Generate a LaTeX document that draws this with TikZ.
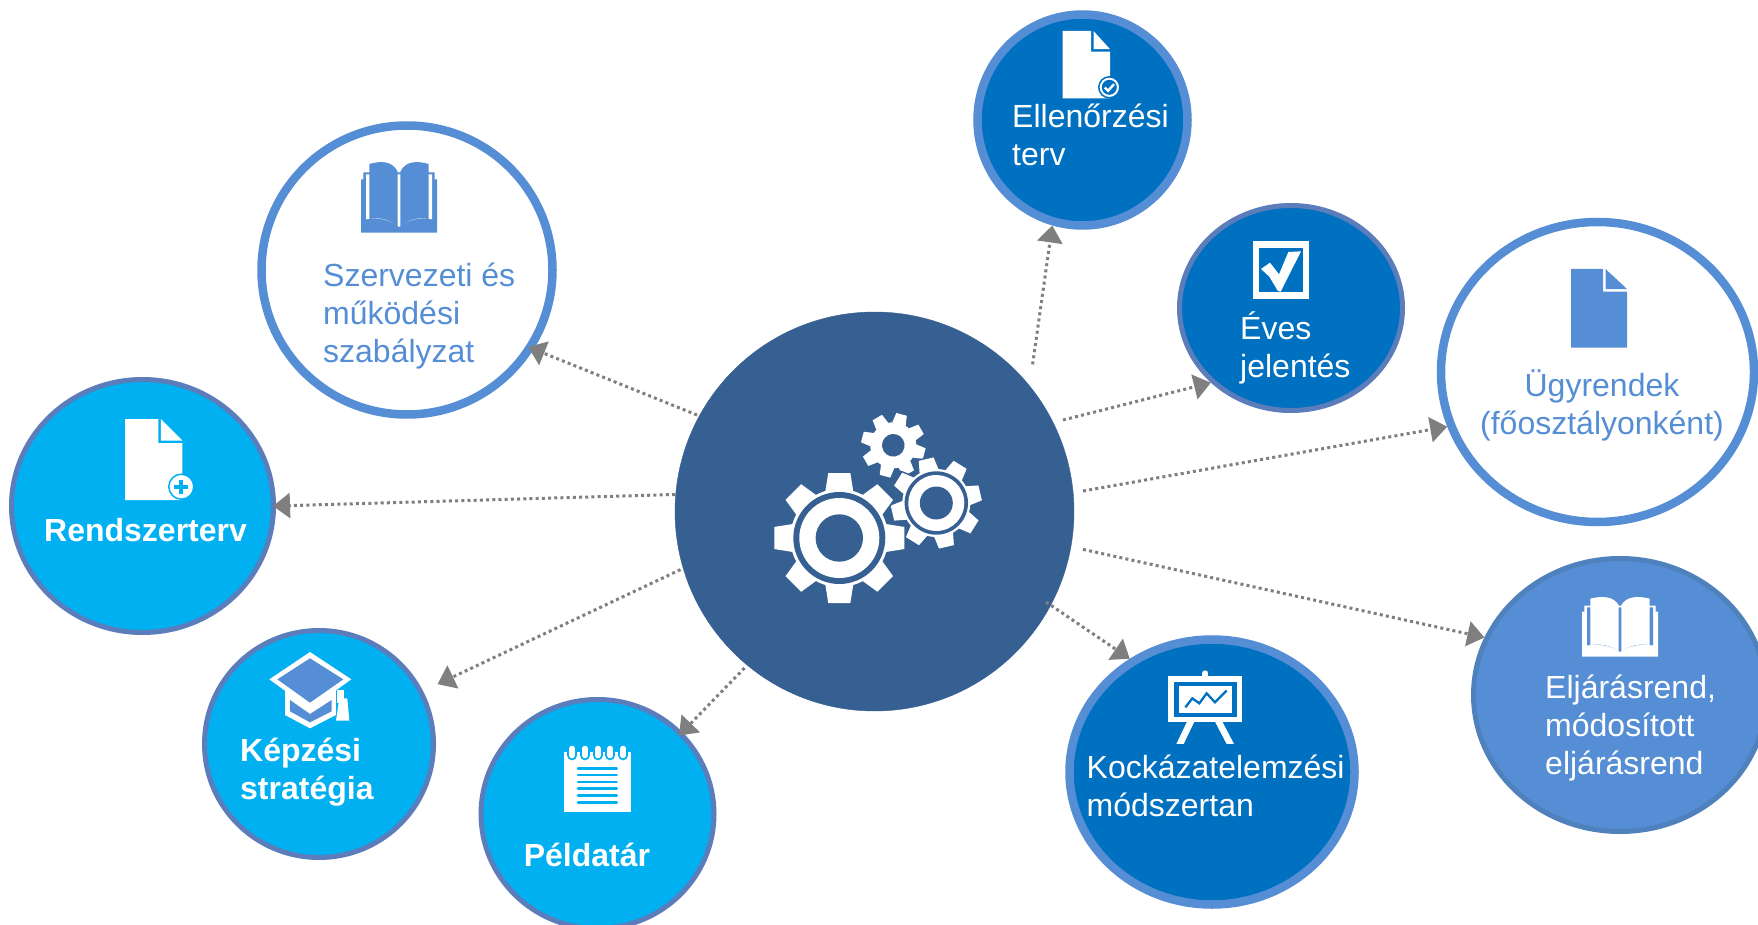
\documentclass[tikz,border=0pt]{standalone}
\usepackage{fontspec}
\setmainfont{Liberation Sans}
\usetikzlibrary{shapes.geometric,arrows.meta}
\definecolor{hubc}{HTML}{376092}
\definecolor{dkb}{HTML}{0070C0}
\definecolor{cyn}{HTML}{00B0F0}
\definecolor{lgb}{HTML}{558ED5}
\definecolor{slt}{HTML}{5B7DBB}
\definecolor{edg}{HTML}{4F81BD}
\definecolor{arr}{HTML}{7F7F7F}
\tikzset{
  blob/.style n args={4}{ellipse,inner sep=0pt,minimum width=#1pt,minimum height=#2pt,fill=#3,draw=#4},
  thinrim/.style={line width=5pt},
  widerim/.style={line width=8.5pt},
  conn/.style={draw=arr,line width=3pt,dash pattern=on 3pt off 3.2pt,-{Triangle[length=17pt,width=25pt,fill=arr]}},
  lbl/.style={inner sep=0pt,align=left,font=\fontsize{32}{38}\selectfont},
  lblc/.style={inner sep=0pt,align=center,font=\fontsize{32}{38}\selectfont},
  lblb/.style={inner sep=0pt,align=left,text=white,font=\fontsize{32}{38}\selectfont\bfseries},
}
% cx cy tip root ringout ringin hole rot
\newcommand\mygear[8]{%
  \begin{scope}[shift={(#1,#2)},rotate=#8]
    \foreach \a in {0,45,...,315}{
      \fill[white,draw=hubc,line width=3pt,rotate=\a]
        (#4*0.95,-#3*0.215) -- (#3,-#3*0.17) -- (#3,#3*0.17) -- (#4*0.95,#3*0.215) -- cycle;
    }
    \fill[white,draw=hubc,line width=3pt] (0,0) circle[radius=#4];
    \foreach \a in {0,45,...,315}{
      \fill[white,rotate=\a]
        (#4*0.95,-#3*0.215) -- (#3,-#3*0.17) -- (#3,#3*0.17) -- (#4*0.95,#3*0.215) -- cycle;
    }
    \fill[white] (0,0) circle[radius=#4];
    \ifdim #5pt>0pt
      \fill[hubc] (0,0) circle[radius=#5];
      \fill[white] (0,0) circle[radius=#6];
    \fi
    \fill[hubc] (0,0) circle[radius=#7];
  \end{scope}}
% L R T B foldx foldy paper
\newcommand\mydoc[7]{%
  \fill[#7] (#1,#3) -- (#5,#3) -- (#5,#6) -- (#2,#6) -- (#2,#4) -- (#1,#4) -- cycle;
  \fill[#7] (#5+2.5,#3) -- (#2,#6-2.5) -- (#5+2.5,#6-2.5) -- cycle;}
% cx top xs ys fg bg
\newcommand\mybook[6]{%
  \begin{scope}[shift={(#1,#2)},xscale=#3,yscale=#4]
    \fill[#5] (-114,213) -- (-114,53) -- (-107,53) -- (-107,32) -- (107,32) -- (107,53) -- (114,53) -- (114,213) -- cycle;
    \fill[#6] (-99,38) -- (-99,173) .. controls (-60,165) and (-25,175) .. (0,196) .. controls (25,175) and (60,165) .. (99,173) -- (99,38) -- cycle;
    \fill[#5] (-89,7) .. controls (-55,-3) and (-20,-3) .. (-4,30) -- (-4,195) .. controls (-25,175) and (-55,165) .. (-89,172) -- cycle;
    \fill[#5] (89,7) .. controls (55,-3) and (20,-3) .. (4,30) -- (4,195) .. controls (25,175) and (55,165) .. (89,172) -- cycle;
  \end{scope}}
\begin{document}
\begin{tikzpicture}[x=1pt,y=-1pt]
\path[use as bounding box,fill=white] (0,0) rectangle (1758,925);

% ---- circles
\node[blob={399}{399}{hubc}{hubc}] (hub) at (874.5,511.5) {};
\node[blob={291}{289}{white}{lgb},widerim] (szerv) at (407,270) {};
\node[blob={262}{253}{cyn}{slt},thinrim] (rend) at (142.5,506) {};
\node[blob={229}{227}{cyn}{slt},thinrim] (kepz) at (319,744) {};
\node[blob={233}{229}{cyn}{slt},thinrim] (pelda) at (597.5,814) {};
\node[blob={285}{265}{dkb}{lgb},widerim] (kock) at (1212,772) {};
\node[blob={293}{273}{lgb}{edg},thinrim] (eljar) at (1620,695) {};
\node[blob={313}{300}{white}{lgb},widerim] (ugy) at (1597.5,372) {};
\node[blob={223}{205}{dkb}{slt},thinrim] (eves) at (1291,308) {};
\node[blob={210}{211}{dkb}{lgb},widerim] (ell) at (1082.5,120) {};

% ---- connector tails
\coordinate (tEll) at (1032.6,364.4);
\coordinate (tEves) at (1063,420);
\coordinate (tUgy) at (1083,491);
\coordinate (tEljar) at (1083,549.4);
\coordinate (tKock) at (1046,602);
\coordinate (tPelda) at (744.5,668);
\coordinate (tKepz) at (680.5,569.6);
\coordinate (tRend) at (675,494.5);
\coordinate (tSzerv) at (697,415);

\draw[conn] (tEll) -- (ell.254);
\draw[conn] (tEves) -- (eves.223);
\draw[conn] (tUgy) -- (ugy.200);
\draw[conn] (tEljar) -- (eljar.157);
\draw[conn] (tKock) -- (kock.126);
\draw[conn,shorten >=-5pt] (tPelda) -- (pelda.44);
\draw[conn,shorten >=16pt] (tKepz) -- (kepz.27);
\draw[conn,shorten >=-3pt] (tRend) -- (rend.0);
\draw[conn,shorten >=-6pt] (tSzerv) -- (szerv.-32);

% ---- gears
\mygear{893.3}{445.3}{32}{23}{0}{0}{11.3}{30}
\mygear{936.3}{503}{45}{34}{31.7}{28}{16.5}{13}
\mygear{839.3}{538}{65}{49}{46}{40}{23.7}{0}

% ---- labels
\node[lbl,text=lgb,anchor=west] (lSzerv) at (323,316) {Szervezeti és\\működési\\szabályzat};
\node[lbl,text=white,anchor=west] (lEll) at (1012,135) {Ellenőrzési\\terv};
\node[lbl,text=white,anchor=west] (lEves) at (1240,348) {Éves\\jelentés};
\node[lblc,text=lgb] (lUgy) at (1602,405.5) {Ügyrendek\\(főosztályonként)};
\node[lbl,text=white,anchor=west] (lEljar) at (1545,728.5) {Eljárásrend,\\módosított\\eljárásrend};
\node[lbl,text=white,anchor=west] (lKock) at (1086.5,786) {Kockázatelemzési\\módszertan};
\node[lblb,anchor=west] (lRend) at (44,530) {Rendszerterv};
\node[lblb,anchor=west] (lKepz) at (240,772) {Képzési\\stratégia};
\node[lblb,anchor=west] (lPelda) at (523.6,855) {Példatár};

% ---- document icons
\mydoc{1062.7}{1110}{31}{98.3}{1091}{51.7}{white}
\fill[white,draw=dkb,line width=1.5pt] (1109.3,87.3) circle[radius=10.5];
\fill[dkb] (1109.3,87.3) circle[radius=7.5];
\draw[white,line width=2.4pt] (1104.8,87.5) -- (1108,90.8) -- (1114,84.2);

\mydoc{125}{182.3}{419}{500}{158.3}{443}{white}
\fill[white,draw=cyn,line width=1.5pt] (181.3,486.7) circle[radius=12.5];
\draw[cyn,line width=4pt] (174.3,486.7) -- (188.3,486.7);
\draw[cyn,line width=4pt] (181.3,479.7) -- (181.3,493.7);

\mydoc{1571}{1627}{269}{347.5}{1603}{291.5}{lgb}

% ---- books
\mybook{399}{161.7}{0.3333}{0.3333}{lgb}{white}
\mybook{1620}{596.7}{0.3333}{0.2817}{white}{lgb}

% ---- check box
\begin{scope}[shift={(1230,220)},scale=0.3333]
  \fill[white] (68,63) rectangle (238,237);
  \fill[dkb] (88,83) rectangle (218,217);
  \fill[white] (93,147) -- (120,128) -- (147,163) -- (175,96) -- (213,94) -- (152,215) -- (143,212) -- (118,170) -- cycle;
\end{scope}

% ---- graduation cap
\begin{scope}[shift={(250,640)},scale=0.3333]
  \fill[white] (105,150) -- (105,225) -- (180,265) -- (258,225) -- (258,150) -- cycle;
  \fill[lgb] (120,180) -- (120,214) -- (180,247) -- (245,214) -- (245,180) -- (180,222) -- cycle;
  \fill[white] (180,36) -- (304,118) -- (180,207) -- (58,118) -- cycle;
  \fill[lgb] (180,55) -- (280,118) -- (180,188) -- (82,118) -- cycle;
  \fill[white] (262,150) rectangle (282,190);
  \fill[white] (268,175) -- (292,175) -- (298,242) -- (258,242) -- cycle;
\end{scope}

% ---- note pad
\begin{scope}[shift={(540,730)},scale=0.3333]
  \fill[white] (71,66) rectangle (272,245);
  \foreach \p in {97,135,173,211,250}{
    \draw[cyn,line width=10pt,line cap=round] (\p,58) -- (\p,76);
    \draw[white,line width=6pt,line cap=round] (\p,56) -- (\p,76);
  }
  \foreach \q in {115,135,156,176,197,217}{
    \draw[cyn,line width=2.6pt,line cap=round] (114,\q) -- (230,\q);
  }
\end{scope}

% ---- easel
\begin{scope}[shift={(1140,660)},scale=0.3333]
  \draw[white,line width=6pt,line cap=round] (196,40) -- (196,60);
  \fill[white] (85,47) rectangle (305,185);
  \fill[dkb] (103,65) rectangle (290,170);
  \fill[white] (116,78) rectangle (277,158);
  \draw[dkb,line width=2.3pt] (136,142) -- (157,115) -- (178,130) -- (200,100) -- (225,127) -- (260,92);
  \fill[white] (141,185) -- (163,185) -- (131,252) -- (109,252) -- cycle;
  \fill[white] (225,185) -- (247,185) -- (282,252) -- (260,252) -- cycle;
\end{scope}
\end{tikzpicture}
\end{document}
